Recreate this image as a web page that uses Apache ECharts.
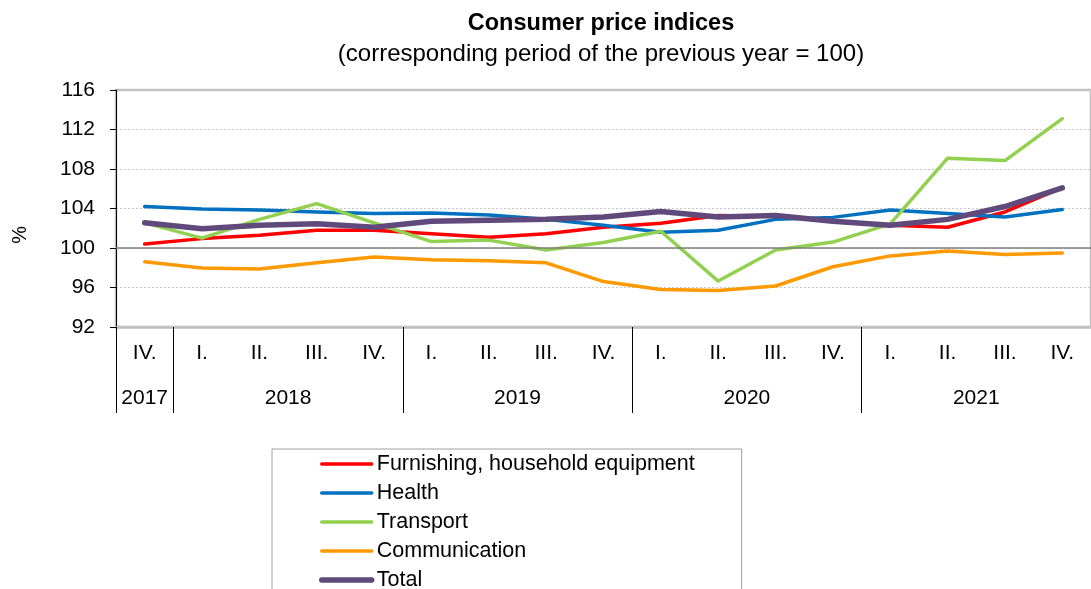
<!DOCTYPE html>
<html>
<head>
<meta charset="utf-8">
<script src="https://cdn.jsdelivr.net/npm/echarts@6/dist/echarts.min.js"></script>
<style>html,body{margin:0;padding:0;background:#fff;}#c{width:1091px;height:589px;}</style>
</head>
<body>
<div id="c"></div>
<script>
var quarters = ['IV.','I.','II.','III.','IV.','I.','II.','III.','IV.','I.','II.','III.','IV.','I.','II.','III.','IV.'];
var years = ['2017','2018','2018','2018','2018','2019','2019','2019','2019','2020','2020','2020','2020','2021','2021','2021','2021'];
var yTicks = [92, 96, 100, 104, 108, 112, 116];

var furnishing = [100.4, 100.95, 101.3, 101.8, 101.8, 101.45, 101.1, 101.45, 102.1, 102.5, 103.3, 103.2, 102.75, 102.3, 102.1, 103.65, 106.1];
var health = [104.2, 103.95, 103.85, 103.65, 103.5, 103.55, 103.35, 102.9, 102.3, 101.6, 101.8, 102.9, 103.1, 103.85, 103.5, 103.15, 103.9];
var transport = [102.55, 101.0, 102.9, 104.5, 102.55, 100.65, 100.8, 99.8, 100.55, 101.7, 96.65, 99.8, 100.6, 102.45, 109.1, 108.85, 113.1];
var communication = [98.6, 97.98, 97.88, 98.5, 99.1, 98.8, 98.7, 98.5, 96.6, 95.8, 95.7, 96.15, 98.1, 99.2, 99.7, 99.35, 99.5];
var total = [102.55, 101.95, 102.3, 102.45, 102.1, 102.7, 102.8, 102.9, 103.15, 103.7, 103.15, 103.3, 102.7, 102.3, 102.9, 104.2, 106.1];

// year groups derived from the categories
var groups = [];
years.forEach(function (y, i) {
  var g = groups[groups.length - 1];
  if (!g || g.year !== y) { groups.push({year: y, start: i, end: i + 1}); }
  else { g.end = i + 1; }
});
var boundaries = [0].concat(groups.map(function (g) { return g.end; }));
var labelPos = groups.map(function (g) { return (g.start + g.end) / 2; });

var FONT = 'Liberation Sans, Arial, sans-serif';
var chart = echarts.init(document.getElementById('c'), null, {renderer: 'canvas'});

function line(name, data, color, width) {
  return {
    name: name, type: 'line', data: data, xAxisIndex: 0,
    symbol: 'none', showSymbol: false,
    lineStyle: {color: color, width: width, cap: 'round', join: 'round'},
    itemStyle: {color: color},
    emphasis: {disabled: true}
  };
}

var series = [
  line('Furnishing, household equipment', furnishing, '#ff0000', 3.5),
  line('Health', health, '#0070c0', 3.5),
  line('Transport', transport, '#92d050', 3.5),
  line('Communication', communication, '#ff9900', 3.5),
  line('Total', total, '#604a7b', 5.5)
];
series[0].markLine = {
  silent: true, symbol: 'none', label: {show: false},
  lineStyle: {color: '#7f7f7f', width: 1.5, type: 'solid'},
  data: [{yAxis: 100}]
};

chart.setOption({
  animation: false,
  title: {
    text: 'Consumer price indices',
    subtext: '(corresponding period of the previous year = 100)',
    left: 596, top: 7, textAlign: 'center', itemGap: 6,
    textStyle: {fontFamily: FONT, fontSize: 23.5, fontWeight: 'bold', color: '#000'},
    subtextStyle: {fontFamily: FONT, fontSize: 24, color: '#000'}
  },
  grid: {
    left: 116, top: 90, width: 987, height: 237,
    show: true, borderColor: '#c0c0c0', borderWidth: 2.5, backgroundColor: 'transparent'
  },
  legend: {
    orient: 'vertical', left: 272, top: 449, height: 220,
    padding: [4, 47, 8, 47], itemGap: 7, itemWidth: 50, itemHeight: 20,
    borderColor: '#a0a0a0', borderWidth: 1,
    itemStyle: {opacity: 0},
    lineStyle: {width: 'inherit', cap: 'round'},
    textStyle: {fontFamily: FONT, fontSize: 21.5, color: '#000', lineHeight: 20},
    data: series.map(function (s) { return s.name; })
  },
  xAxis: [{
    type: 'category', data: quarters, boundaryGap: true,
    axisLine: {show: true, lineStyle: {color: '#c0c0c0', width: 2.5}},
    axisTick: {show: false},
    axisLabel: {fontFamily: FONT, fontSize: 21, color: '#000', margin: 16, interval: 0},
    splitLine: {show: false}
  }, {
    type: 'value', min: 0, max: quarters.length, position: 'bottom',
    axisLine: {show: false},
    axisTick: {show: true, customValues: boundaries, length: 86, lineStyle: {color: '#000', width: 1}},
    axisLabel: {
      show: true, customValues: labelPos, margin: 61,
      fontFamily: FONT, fontSize: 21, color: '#000',
      formatter: function (v) {
        for (var i = 0; i < labelPos.length; i++) { if (Math.abs(labelPos[i] - v) < 1e-6) return groups[i].year; }
        return '';
      }
    },
    splitLine: {show: false}
  }],
  yAxis: {
    type: 'value', min: yTicks[0], max: yTicks[yTicks.length - 1], interval: 4,
    axisLine: {show: true, lineStyle: {color: '#000', width: 1}},
    axisTick: {show: true, length: 6, lineStyle: {color: '#000'}},
    axisLabel: {fontFamily: FONT, fontSize: 21, color: '#000', margin: 21},
    splitLine: {show: true, lineStyle: {color: '#c8c8c8', width: 1, type: [2, 2]}}
  },
  graphic: [{
    type: 'text', left: 10, top: 226, rotation: Math.PI / 2,
    style: {text: '%', fontFamily: FONT, fontSize: 20, fill: '#000'}
  }],
  series: series
});
</script>
</body>
</html>
